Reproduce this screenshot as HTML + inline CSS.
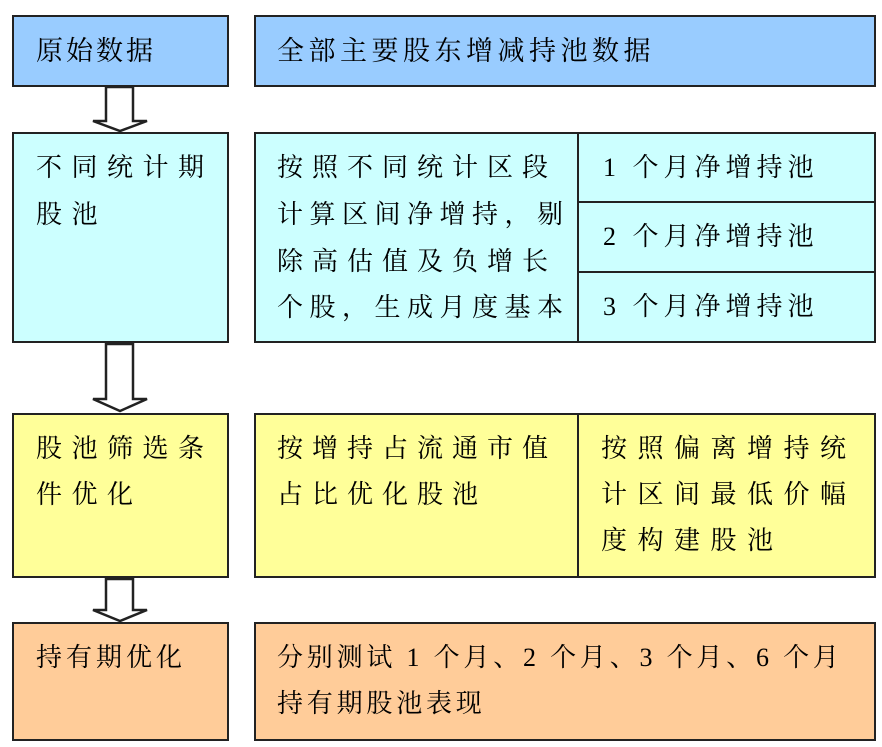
<!DOCTYPE html>
<html><head><meta charset="utf-8"><style>
body{margin:0;width:882px;height:747px;background:#fff;position:relative;overflow:hidden;font-family:"Liberation Serif","Noto Serif CJK SC",serif;}
.b{position:absolute;border:2px solid #222;box-sizing:border-box;}
.t{position:absolute;font-size:26px;color:#000;white-space:nowrap;line-height:30px;}
</style></head><body>
<div class="b" style="left:12px;top:15px;width:217px;height:72px;background:#99CCFF"></div>
<div class="b" style="left:254px;top:15px;width:622px;height:72px;background:#99CCFF"></div>
<div class="t" style="left:36px;top:36px;font-size:27px;letter-spacing:3px;">原始数据</div>
<div class="t" style="left:277px;top:36px;font-size:27px;letter-spacing:4.5px;">全部主要股东增减持池数据</div>

<div class="b" style="left:12px;top:132px;width:217px;height:211px;background:#CCFFFF"></div>
<div class="b" style="left:254px;top:132px;width:622px;height:211px;background:#CCFFFF"></div>
<div class="t" style="left:36px;top:153px;letter-spacing:9.5px;">不同统计期</div>
<div class="t" style="left:36px;top:200px;letter-spacing:9.5px;">股池</div>
<div class="t" style="left:277px;top:153px;letter-spacing:9px;">按照不同统计区段</div>
<div class="t" style="left:277px;top:200px;letter-spacing:6.5px;">计算区间净增持，剔</div>
<div class="t" style="left:277px;top:247px;letter-spacing:9px;">除高估值及负增长</div>
<div class="t" style="left:277px;top:293px;letter-spacing:6.5px;">个股，生成月度基本</div>
<div class="b" style="left:577px;top:132px;width:299px;height:71px;background:#CCFFFF"></div>
<div class="b" style="left:577px;top:201px;width:299px;height:72px;background:#CCFFFF"></div>
<div class="b" style="left:577px;top:271px;width:299px;height:72px;background:#CCFFFF"></div>
<div class="t" style="left:603px;top:153px;letter-spacing:5px;">1 个月净增持池</div>
<div class="t" style="left:603px;top:222px;letter-spacing:5px;">2 个月净增持池</div>
<div class="t" style="left:603px;top:292px;letter-spacing:5px;">3 个月净增持池</div>

<div class="b" style="left:12px;top:413px;width:217px;height:165px;background:#FFFF99"></div>
<div class="b" style="left:254px;top:413px;width:326px;height:165px;background:#FFFF99"></div>
<div class="b" style="left:577px;top:413px;width:299px;height:165px;background:#FFFF99"></div>
<div class="t" style="left:36px;top:434px;letter-spacing:9.5px;">股池筛选条</div>
<div class="t" style="left:36px;top:480px;letter-spacing:9.5px;">件优化</div>
<div class="t" style="left:277px;top:434px;letter-spacing:9px;">按增持占流通市值</div>
<div class="t" style="left:277px;top:480px;letter-spacing:9px;">占比优化股池</div>
<div class="t" style="left:601px;top:434px;letter-spacing:10.5px;">按照偏离增持统</div>
<div class="t" style="left:601px;top:480px;letter-spacing:10.5px;">计区间最低价幅</div>
<div class="t" style="left:601px;top:526px;letter-spacing:10.5px;">度构建股池</div>

<div class="b" style="left:12px;top:622px;width:217px;height:119px;background:#FFCC99"></div>
<div class="b" style="left:254px;top:622px;width:622px;height:119px;background:#FFCC99"></div>
<div class="t" style="left:36px;top:643px;letter-spacing:4px;">持有期优化</div>
<div class="t" style="left:277px;top:643px;letter-spacing:3.8px;">分别测试 1 个月、2 个月、3 个月、6 个月</div>
<div class="t" style="left:277px;top:689px;letter-spacing:3.8px;">持有期股池表现</div>

<svg width="882" height="747" style="position:absolute;left:0;top:0" fill="#fff" stroke="#222" stroke-width="2.5">
<polygon points="106,87 133,87 133,121 147,121 120,131 93,121 106,121"/>
<polygon points="106,344 133,344 133,399 147,399 120,411 93,399 106,399"/>
<polygon points="106,579 133,579 133,610 147,610 120,621 93,610 106,610"/>
</svg>
</body></html>
